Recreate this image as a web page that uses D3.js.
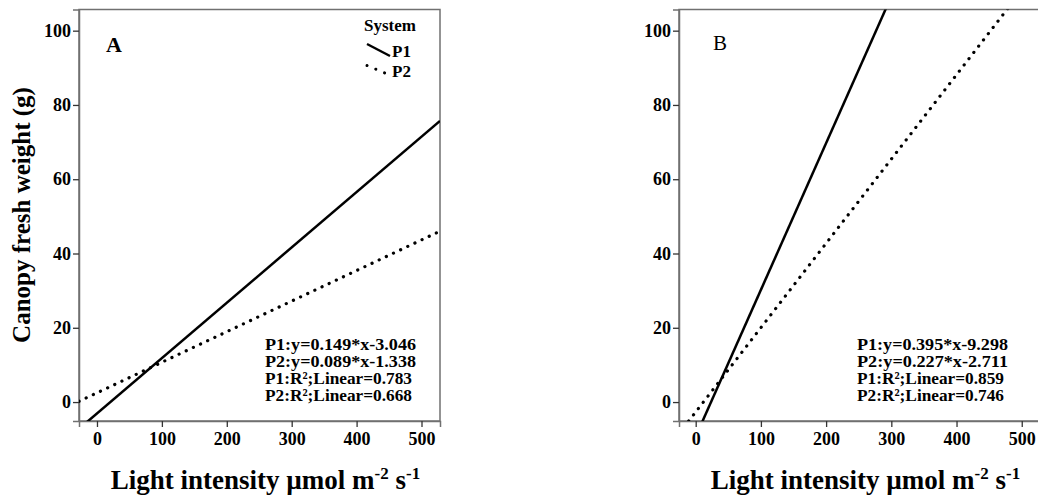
<!DOCTYPE html>
<html>
<head>
<meta charset="utf-8">
<script src="https://cdn.jsdelivr.net/npm/d3@7"></script>
<style>
  body { margin: 0; background: #fff; }
  svg text { font-family: "Liberation Serif", "Times New Roman", serif; font-weight: bold; fill: #000; }
</style>
</head>
<body>
<div id="chart"></div>
<script>
// fit line ends: value at left and right edge of each panel
var panels = ["A", "B"];
var seriesNames = ["P1", "P2"];
var xDomainA = [-27.7, 528.5];
var xDomainB = [-25.6, 528];
var yDomain = [-5.1, 105.7];
var lineEndsA = [[-7.2, 75.7], [0.2, 46.0]];
var lineEndsB = [[-19.4, 199.3], [-8.5, 117.2]];
var labelsA = ["P1:y=0.149*x-3.046", "P2:y=0.089*x-1.338", "P1:R\u00b2;Linear=0.783", "P2:R\u00b2;Linear=0.668"];
var labelsB = ["P1:y=0.395*x-9.298", "P2:y=0.227*x-2.711", "P1:R\u00b2;Linear=0.859", "P2:R\u00b2;Linear=0.746"];
var xTicks = [0, 100, 200, 300, 400, 500];
var yTicks = [0, 20, 40, 60, 80, 100];

var svg = d3.select("#chart")
    .append("svg")
    .attr("width", 1038)
    .attr("height", 496);

// plot areas (pixel boxes)
var boxes = [
    {left: 79, right: 440, top: 9.5, bottom: 421, eqX: 265},
    {left: 679, right: 1040, top: 9.5, bottom: 421, eqX: 857}
];

function drawPanel(i, lineEnds, labels, xDomain) {
    var b = boxes[i];
    var x = d3.scaleLinear().domain(xDomain).range([b.left, b.right]);
    var y = d3.scaleLinear().domain(yDomain).range([b.bottom, b.top]);

    var g = svg.append("g");

    g.append("clipPath")
        .attr("id", "clip" + i)
        .append("rect")
        .attr("x", b.left).attr("y", b.top)
        .attr("width", b.right - b.left).attr("height", b.bottom - b.top);

    // frame
    g.append("rect")
        .attr("x", b.left).attr("y", b.top)
        .attr("width", b.right - b.left).attr("height", b.bottom - b.top)
        .attr("fill", "none")
        .attr("stroke", "#707070")
        .attr("stroke-width", 1.5);

    // axes
    var xAxis = g.append("g")
        .attr("transform", "translate(0," + b.bottom + ")")
        .call(d3.axisBottom(x).tickValues(xTicks).tickSize(6).tickPadding(5));
    var yAxis = g.append("g")
        .attr("transform", "translate(" + b.left + ",0)")
        .call(d3.axisLeft(y).tickValues(yTicks).tickSize(6).tickPadding(2));
    [xAxis, yAxis].forEach(function (a) {
        a.select(".domain").attr("stroke", "#707070").attr("stroke-width", 1.5);
        a.selectAll(".tick line").attr("stroke", "#333").attr("stroke-width", 1.3);
        a.selectAll(".tick text")
            .style("font-family", "Liberation Serif, serif")
            .style("font-weight", "bold")
            .style("font-size", "18px")
            .attr("fill", "#000");
    });

    // fit lines
    var lineG = g.append("g").attr("clip-path", "url(#clip" + i + ")");
    seriesNames.forEach(function (s, k) {
        var pts = xDomain.map(function (xv, j) { return [xv, lineEnds[k][j]]; });
        var path = lineG.append("path")
            .datum(pts)
            .attr("fill", "none")
            .attr("stroke", "#000")
            .attr("d", d3.line().x(function (d) { return x(d[0]); }).y(function (d) { return y(d[1]); }));
        if (k == 0) {
            path.attr("stroke-width", 2.5);
        } else {
            path.attr("stroke-width", 3.2)
                .attr("stroke-linecap", "round")
                .attr("stroke-dasharray", "0.1 7.8");
        }
    });

    // panel letter
    g.append("text")
        .attr("x", b.left + 27 + i * 7)
        .attr("y", i == 0 ? 52 : 50)
        .style("font-size", i == 0 ? "22px" : "21px")
        .style("font-weight", i == 0 ? "bold" : "normal")
        .text(panels[i]);

    // equations
    g.selectAll(".eq")
        .data(labels)
        .enter()
        .append("text")
        .attr("x", b.eqX)
        .attr("y", function (d, j) { return 350 + j * 17; })
        .style("font-size", "17px")
        .attr("textLength", function (d, j) { return j < 2 ? 151 : 147; })
        .attr("lengthAdjust", "spacingAndGlyphs")
        .text(function (d) { return d; });

    // x axis title
    var t = g.append("text")
        .attr("x", (b.left + b.right) / 2 + 6)
        .attr("y", 489)
        .attr("text-anchor", "middle")
        .style("font-size", "27px");
    t.append("tspan").text("Light intensity \u00b5mol m");
    t.append("tspan").attr("dy", -10).style("font-size", "17px").text("-2");
    t.append("tspan").attr("dy", 10).text(" s");
    t.append("tspan").attr("dy", -10).style("font-size", "17px").text("-1");
}

drawPanel(0, lineEndsA, labelsA, xDomainA);
drawPanel(1, lineEndsB, labelsB, xDomainB);

// y axis title
svg.append("text")
    .attr("transform", "translate(30,215) rotate(-90)")
    .attr("text-anchor", "middle")
    .style("font-size", "25px")
    .text("Canopy fresh weight (g)");

// legend
var leg = svg.append("g");
leg.append("text").attr("x", 390).attr("y", 30.5).attr("text-anchor", "middle")
    .style("font-size", "17px").text("System");
var legY = [44, 65.5];
seriesNames.forEach(function (s, k) {
    var seg = leg.append("line")
        .attr("x1", 367).attr("y1", legY[k])
        .attr("x2", k == 0 ? 390 : 386).attr("y2", legY[k] + (k == 0 ? 12 : 8))
        .attr("stroke", "#000");
    if (k == 0) {
        seg.attr("stroke-width", 2.4);
    } else {
        seg.attr("stroke-width", 3).attr("stroke-linecap", "round").attr("stroke-dasharray", "0.1 9.4");
    }
    leg.append("text").attr("x", 392).attr("y", k == 0 ? 57.3 : 77.3).style("font-size", "17px").text(s);
});
</script>
</body>
</html>
